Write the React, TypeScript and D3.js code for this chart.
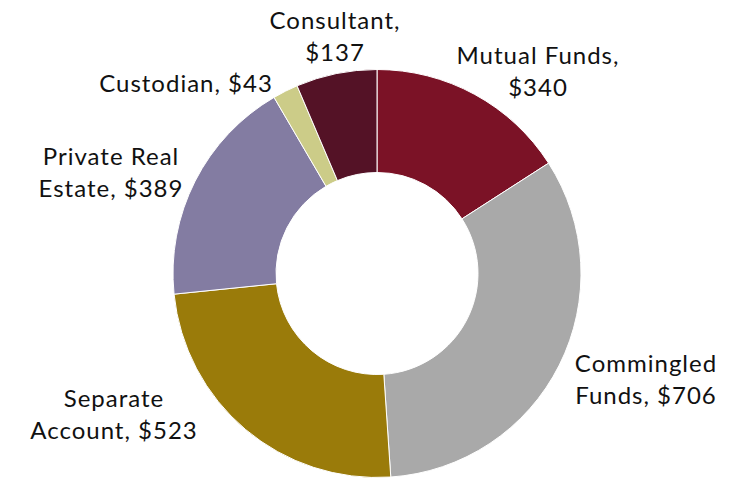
import React from "react";
import * as d3 from "d3";

const categories = ["Mutual Funds", "Commingled Funds", "Separate Account", "Private Real Estate", "Custodian", "Consultant"];
const values = [340, 706, 523, 389, 43, 137];
const colors = ["#7B1226", "#A9A9A9", "#9A7B0A", "#837CA2", "#CCCC88", "#541226"];
// how each label wraps
const labelLines = [
  ["Mutual Funds,", "$340"],
  ["Commingled", "Funds, $706"],
  ["Separate", "Account, $523"],
  ["Private Real", "Estate, $389"],
  ["Custodian, $43"],
  ["Consultant,", "$137"],
];

// layout
const W = 752, H = 481;
const cx = 377, cy = 273.5, R = 204, r = 101;
const labelAnchors: [number, number][] = [
  [161, -210],
  [269, 98],
  [-263, 133],
  [-266, -109],
  [-191, -182],
  [-42, -245],
];
const lineH = 32;

export default function App() {
  const pie = d3.pie<number>().value((d) => d).sort(null);
  const arcs = pie(values);
  const arc = d3.arc<d3.PieArcDatum<number>>().innerRadius(r).outerRadius(R);
  return (
    <div style={{ position: "absolute", left: 0, top: 0 }}>
      <svg width={W} height={H} style={{ display: "block", background: "#fff" }}>
        <g transform={`translate(${cx},${cy})`}>
          {arcs.map((a, i) => (
            <path key={categories[i]} d={arc(a) || ""} fill={colors[i]} stroke="#fff" strokeWidth={1} />
          ))}
          {labelLines.map((lines, i) => (
            <text
              key={"l" + i}
              x={labelAnchors[i][0]}
              y={labelAnchors[i][1]}
              textAnchor="middle"
              fontFamily="Lato, 'Noto Sans', sans-serif"
              fontSize={24}
              letterSpacing={1}
              fill="#111"
            >
              {lines.map((t, j) => (
                <tspan key={j} x={labelAnchors[i][0]} dy={j === 0 ? 0 : lineH}>
                  {t}
                </tspan>
              ))}
            </text>
          ))}
        </g>
      </svg>
    </div>
  );
}
